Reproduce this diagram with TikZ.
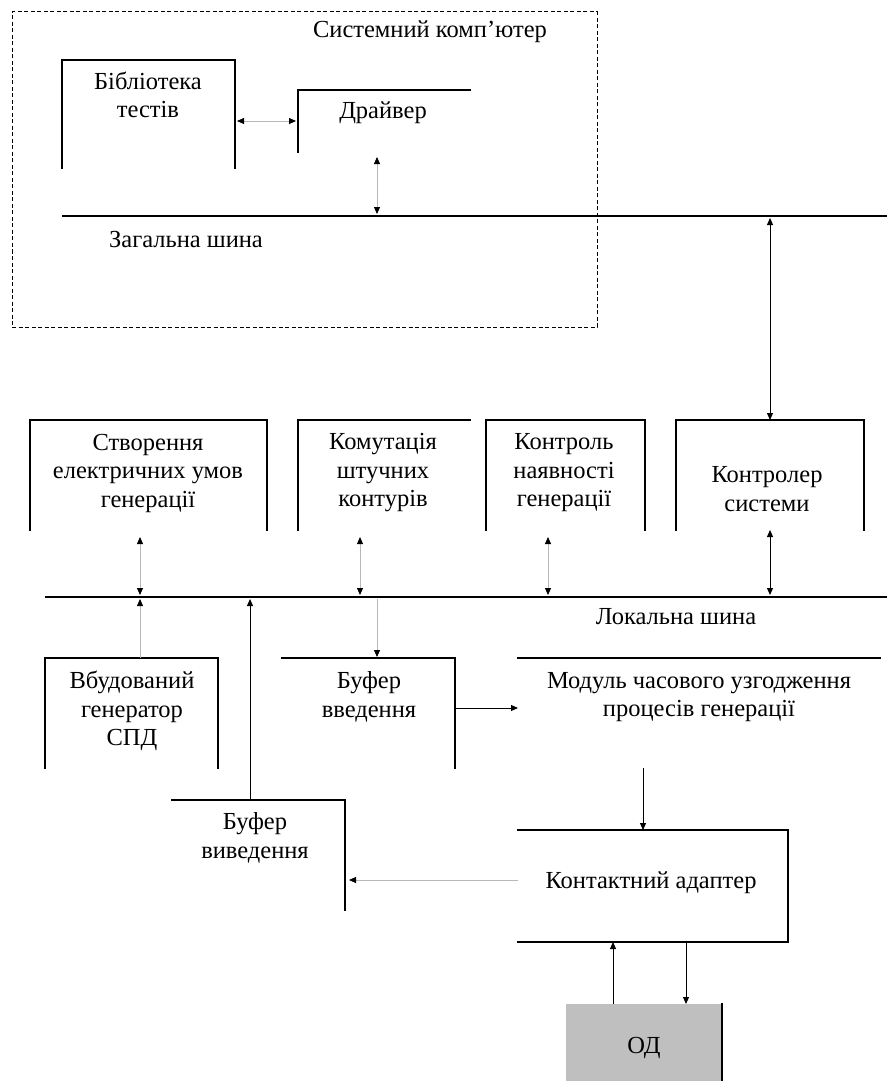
\documentclass[tikz,border=0pt]{standalone}
\usepackage{fontspec}
\setmainfont{Liberation Serif}
\usetikzlibrary{arrows.meta,calc}
\begin{document}
\begin{tikzpicture}[x=1pt,y=-1pt,
  blk/.style={inner sep=0pt,outer sep=0pt,anchor=north west},
  edge/.style={line width=1.3pt,line cap=rect},
  bus/.style={line width=2.6pt},
  lbl/.style={align=center,font=\fontsize{24.5}{28.5}\selectfont,inner sep=0pt},
  barr/.style={line width=1pt,-{Triangle[length=7pt,width=6pt]}},
  bdbl/.style={line width=1pt,{Triangle[length=7pt,width=6pt]}-{Triangle[length=7pt,width=6pt]}},
  garr/.style={line width=0.8pt,draw=black!28,-{Triangle[length=7pt,width=6pt,color=black]}},
  gdbl/.style={line width=0.8pt,draw=black!28,{Triangle[length=7pt,width=6pt,color=black]}-{Triangle[length=7pt,width=6pt,color=black]}},
]
\useasboundingbox[fill=white] (0,0) rectangle (887,1081);

% system computer container
\node[blk,draw,line width=1pt,dash pattern=on 4pt off 2.5pt,minimum width=585pt,minimum height=315pt] (sys) at (12,12) {};
\node[lbl] (syst) at (430,32) {Системний комп'ютер};

% boxes (geometry)
\node[blk,minimum width=173pt,minimum height=108pt] (lib) at (62,60) {};
\node[blk,minimum width=172pt,minimum height=62pt] (drv) at (298,90) {};
\node[blk,minimum width=237pt,minimum height=110pt] (sozd) at (30,420) {};
\node[blk,minimum width=172pt,minimum height=110pt] (kom) at (298,420) {};
\node[blk,minimum width=159pt,minimum height=110pt] (kontr) at (486,420) {};
\node[blk,minimum width=188pt,minimum height=110pt] (ctrl) at (676,420) {};
\node[blk,minimum width=173pt,minimum height=110pt] (vbud) at (45,658) {};
\node[blk,minimum width=173pt,minimum height=110pt] (bvv) at (282,658) {};
\node[blk,minimum width=362pt,minimum height=110pt] (mod) at (518,658) {};
\node[blk,minimum width=173pt,minimum height=110pt] (bvyv) at (172,800) {};
\node[blk,minimum width=270pt,minimum height=112pt] (ka) at (518,830) {};
\node[blk,fill=black!25,minimum width=156pt,minimum height=77pt] (od) at (566,1004) {};

% visible edges
\draw[edge] (lib.south west) -- (lib.north west) -- (lib.north east) -- (lib.south east);
\draw[edge] (drv.south west) -- (drv.north west) -- (drv.north east);
\draw[edge] (sozd.south west) -- (sozd.north west) -- (sozd.north east) -- (sozd.south east);
\draw[edge] (kom.south west) -- (kom.north west) -- (kom.north east);
\draw[edge] (kontr.south west) -- (kontr.north west) -- (kontr.north east) -- (kontr.south east);
\draw[edge] (ctrl.south west) -- (ctrl.north west) -- (ctrl.north east) -- (ctrl.south east);
\draw[edge] (vbud.south west) -- (vbud.north west) -- (vbud.north east) -- (vbud.south east);
\draw[edge] (bvv.north west) -- (bvv.north east) -- (bvv.south east);
\draw[edge] (mod.north west) -- (mod.north east);
\draw[edge] (bvyv.north west) -- (bvyv.north east) -- (bvyv.south east);
\draw[edge] (ka.north west) -- (ka.north east) -- (ka.south east) -- (ka.south west);
\draw[edge] (od.north east) -- (od.south east);

% labels
\node[lbl] (libt) at (148,95) {Бібліотека\\тестів};
\node[lbl] (drvt) at (383,113) {Драйвер};
\node[lbl] (sozdt) at (148,473) {Створення\\електричних умов\\генерації};
\node[lbl] (komt) at (383,473) {Комутація\\штучних\\контурів};
\node[lbl] (kontrt) at (564,473) {Контроль\\наявності\\генерації};
\node[lbl] (ctrlt) at (767,489) {Контролер\\системи};
\node[lbl] (vbudt) at (132,711) {Вбудований\\генератор\\СПД};
\node[lbl] (bvvt) at (369,697) {Буфер\\введення};
\node[lbl] (modt) at (699,697) {Модуль часового узгодження\\процесів генерації};
\node[lbl] (bvyvt) at (255,838) {Буфер\\виведення};
\node[lbl] (kat) at (651,883) {Контактний адаптер};
\node[lbl] (odt) at (644,1048) {ОД};
\node[lbl] (gbt) at (186,239) {Загальна шина};
\node[lbl] (lbt) at (676,617) {Локальна шина};

% buses
\coordinate (g1) at (62,216);
\coordinate (g2) at (887,216);
\coordinate (l1) at (45,597);
\coordinate (l2) at (887,597);

% connectors
\draw[gdbl,shorten <=2pt,shorten >=2pt] (drv.west -| lib.east) -- (drv.west);
\draw[gdbl] ([xshift=-7pt,yshift=-5pt]drv.south) -- ([xshift=-7pt,yshift=2pt]drv.south |- g1);
\draw[bdbl] ([yshift=-2pt]ctrl.north |- g1) -- (ctrl.north);
\draw[gdbl] ([xshift=-8.5pt,yshift=-7pt]sozd.south) -- ([xshift=-8.5pt,yshift=2pt]sozd.south |- l1);
\draw[gdbl] ([xshift=-24pt,yshift=-7pt]kom.south) -- ([xshift=-24pt,yshift=2pt]kom.south |- l1);
\draw[gdbl] ([xshift=-17.5pt,yshift=-7pt]kontr.south) -- ([xshift=-17.5pt,yshift=2pt]kontr.south |- l1);
\draw[bdbl] (ctrl.south) -- ([yshift=2pt]ctrl.south |- l1);
\draw[garr] ([xshift=8.5pt]vbud.north) -- ([xshift=8.5pt,yshift=-2pt]vbud.north |- l1);
\draw[garr] ([xshift=8.5pt,yshift=-2pt]bvv.north |- l1) -- ([xshift=8.5pt,yshift=1pt]bvv.north);
\draw[barr] ([yshift=5pt]bvv.east) -- ([yshift=5pt]bvv.east -| mod.west);
\draw[barr] ([xshift=-10pt]ka.north |- mod.south) -- ([xshift=-10pt]ka.north);
\draw[garr,shorten >=4pt] ([yshift=6pt]ka.west) -- ([yshift=6pt]ka.west -| bvyv.east);
\draw[barr] ([xshift=-8.5pt]bvyv.north) -- ([xshift=-8.5pt,yshift=-2pt]bvyv.north |- l1);
\draw[barr] ([xshift=-31pt]od.north) -- ([xshift=-31pt]od.north |- ka.south);
\draw[barr] ([xshift=33pt]ka.south) -- ([xshift=33pt]ka.south |- od.north);

\draw[bus] (g1) -- (g2);
\draw[bus] (l1) -- (l2);
\end{tikzpicture}
\end{document}
